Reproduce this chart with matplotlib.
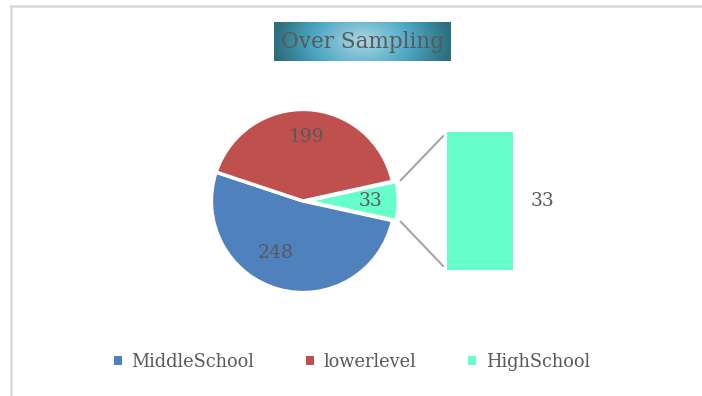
import numpy as np
import matplotlib
matplotlib.use('Agg')
import matplotlib.pyplot as plt
from matplotlib.patches import ConnectionPatch, Patch
from matplotlib.lines import Line2D

# data
categories = ['MiddleSchool', 'lowerlevel', 'HighSchool']
counts = [248, 199, 33]
colors = ['#4f81bd', '#c0504d', '#66ffcc']
title = 'Over Sampling'

W, H = 702, 396
TXT = '#595959'
plt.rcParams['font.family'] = ['DejaVu Serif']

fig = plt.figure(figsize=(W / 100, H / 100), dpi=100)


def box(x, y, w, h):
    # pixel box with top-left origin -> figure fraction rect
    return [x / W, 1 - (y + h) / H, w / W, h / H]


# chart border (only top and left edges fall inside the image)
fig.add_artist(Line2D([11 / W, 11 / W], [0, 1 - 6 / H], transform=fig.transFigure,
                      color='#d9d9d9', lw=1.8))
fig.add_artist(Line2D([11 / W, 1.01], [1 - 6 / H, 1 - 6 / H], transform=fig.transFigure,
                      color='#d9d9d9', lw=1.8))

# title with gradient background
tax = fig.add_axes(box(274, 22, 177, 39))
gx = np.linspace(-1, 1, 300)
gy = np.linspace(-1, 1, 60)
XX, YY = np.meshgrid(gx, gy)
d = np.clip(np.sqrt(XX ** 2 + (YY * 0.35) ** 2), 0, 1)
c_mid = np.array([172, 216, 229]) / 255
c_in = np.array([78, 168, 196]) / 255
c_out = np.array([44, 110, 126]) / 255
t1 = np.clip(d / 0.55, 0, 1)[..., None]
t2 = np.clip((d - 0.55) / 0.45, 0, 1)[..., None]
img = np.where(d[..., None] < 0.55, c_mid + (c_in - c_mid) * t1, c_in + (c_out - c_in) * t2)
tax.imshow(img, aspect='auto', extent=(0, 1, 0, 1))
tax.set_axis_off()
tax.text(0.5, 0.48, title, ha='center', va='center', fontsize=15.5, color=TXT,
         transform=tax.transAxes)

# pie
total = sum(counts)
start = 360 - counts[2] / total * 180
pax = fig.add_axes(box(303 - 114.5, 201 - 114.5, 229, 229))
wedges, _, autotexts = pax.pie(
    counts, colors=colors, startangle=start, counterclock=False,
    explode=[0, 0, 0.04], autopct=lambda p: f'{round(p * total / 100)}',
    pctdistance=0.7, wedgeprops=dict(edgecolor='white', linewidth=2.5),
    textprops=dict(color=TXT, fontsize=13.5))
# the large slice's label sits a little toward the centre-left
autotexts[0].set_position((-0.3, -0.57))

# bar for the split-out slice
bax = fig.add_axes(box(447, 132, 66, 138))
bax.bar([0], [counts[2]], width=1, color=colors[2])
bax.set_xlim(-0.5, 0.5)
bax.set_ylim(0, counts[2])
bax.set_axis_off()
bax.annotate(f'{counts[2]}', xy=(0.5, counts[2] / 2), xytext=(30, 0),
             textcoords='offset pixels', ha='center', va='center',
             fontsize=13.5, color=TXT)

# connector lines from slice edges to bar corners
w = wedges[2]
cx, cy = w.center
for ang, ycorner in [(w.theta2, counts[2]), (w.theta1, 0)]:
    r = w.r * 1.05
    p = (cx + r * np.cos(np.radians(ang)), cy + r * np.sin(np.radians(ang)))
    con = ConnectionPatch(xyA=p, coordsA=pax.transData,
                          xyB=(-0.5, ycorner), coordsB=bax.transData,
                          color='#a6a6a6', lw=1.5, shrinkB=4)
    fig.add_artist(con)

# legend
handles = [Patch(facecolor=c, edgecolor='none') for c in colors]
fig.legend(handles, categories, loc='center', bbox_to_anchor=(0.501, 1 - 362 / H),
           ncol=3, frameon=False, handlelength=0.45, handleheight=0.45,
           handletextpad=0.55, columnspacing=2.9, fontsize=12.8, labelcolor=TXT)

fig.savefig('out.png', dpi=100, facecolor='white')
